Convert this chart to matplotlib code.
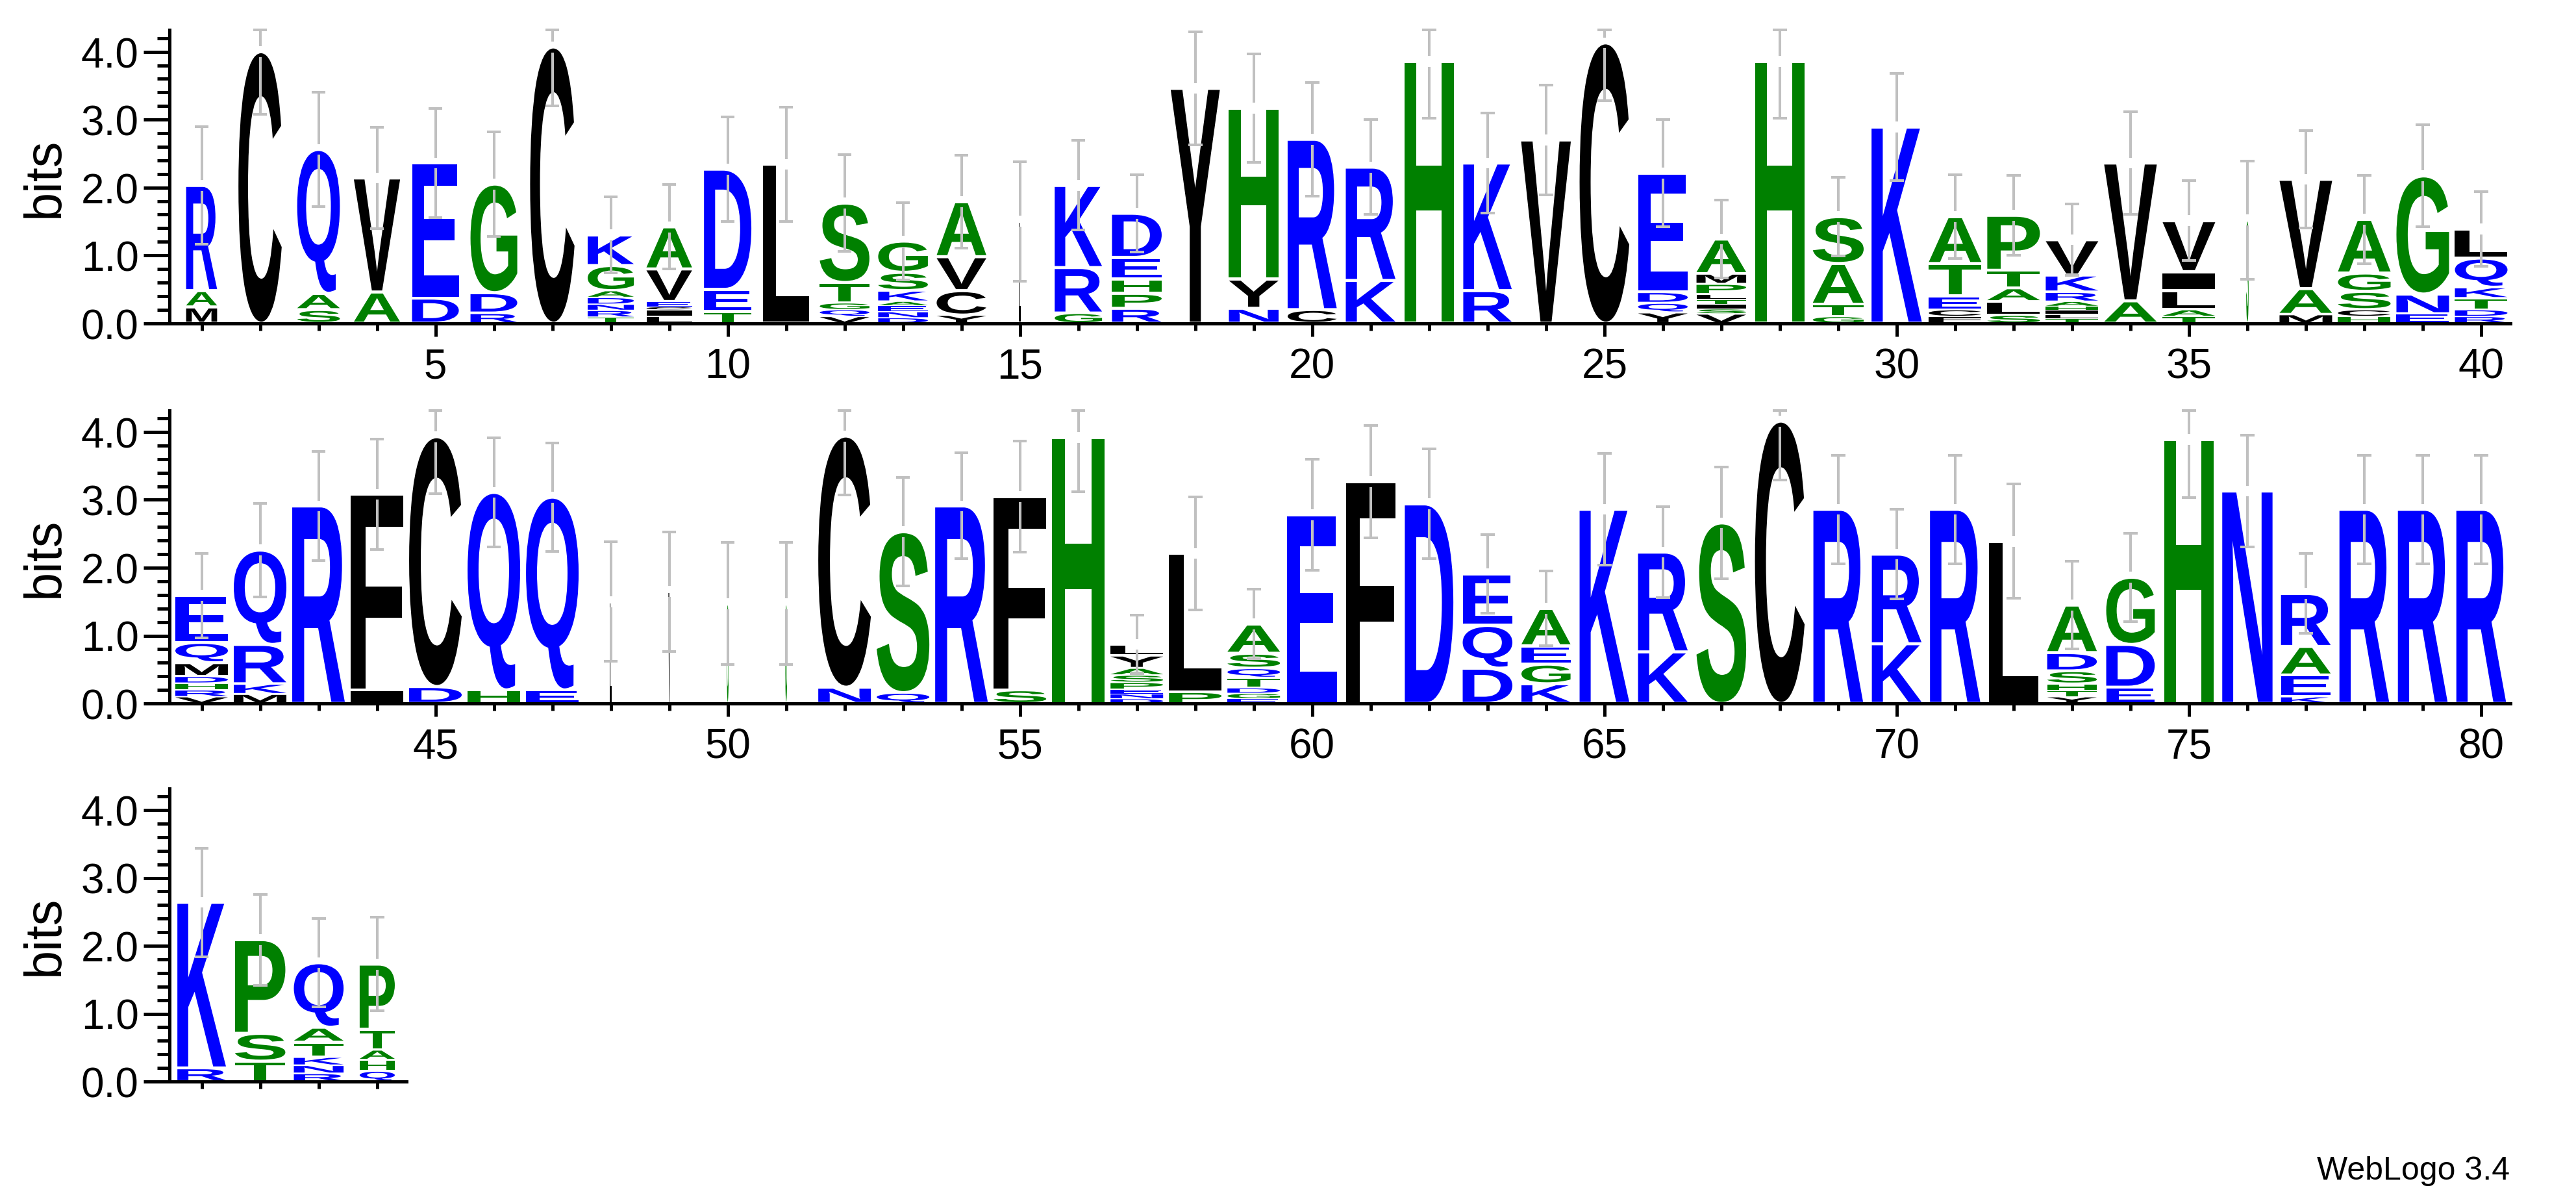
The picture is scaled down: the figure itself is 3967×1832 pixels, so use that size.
import matplotlib.pyplot as plt
from matplotlib.textpath import TextPath
from matplotlib.font_manager import FontProperties
from matplotlib.patches import PathPatch
from matplotlib.transforms import Affine2D
from matplotlib.ticker import MultipleLocator, FormatStrFormatter

plt.rcParams['font.family'] = ['Liberation Sans', 'DejaVu Sans']

# letters of each column, bottom to top
stacks = [
    "MAR", "C", "SAQ", "AV", "DE", "RDG", "C", "TRNDAGK", "LICEVA", "TED",
    "L", "VQGTS", "DNEAKSG", "YCVA", "L", "GRK", "RPHED", "Y", "NYH", "CR",
    "KR", "H", "RK", "V", "C", "YQDE", "VSITLPMA", "H", "GTAS", "K",
    "FCETA", "SLATP", "TLIHARKV", "AV", "TALIV", "S", "MAV", "HCSGA", "ENG", "RDTKQL",
    "VRHDMQE", "MKRQ", "R", "IF", "DC", "HQ", "EQ", "L", "V", "G",
    "G", "NC", "QS", "R", "SF", "H", "DNEPSAYL", "PL", "EGDTQSA", "E",
    "F", "D", "DQE", "KGEA", "K", "KR", "S", "C", "R", "KR",
    "R", "L", "YTHSDA", "EDG", "H", "N", "KEAR", "R", "R", "R",
    "RK", "TSP", "RNKTAQ", "QHATP",
]

# bits of each letter, same order
heights = [
    [0.24, 0.24, 1.55], [4.0], [0.2, 0.24, 2.12], [0.46, 1.68], [0.37, 1.99],
    [0.15, 0.3, 1.6], [4.07], [0.09, 0.1, 0.09, 0.1, 0.1, 0.37, 0.45],
    [0.1, 0.1, 0.04, 0.08, 0.48, 0.62], [0.17, 0.33, 1.77],
    [2.34], [0.1, 0.1, 0.1, 0.3, 1.17], [0.08, 0.09, 0.09, 0.06, 0.16, 0.27, 0.46],
    [0.12, 0.36, 0.5, 0.81], [1.5], [0.15, 0.67, 1.21], [0.22, 0.22, 0.21, 0.32, 0.65],
    [3.46], [0.22, 0.43, 2.52], [0.2, 2.51],
    [0.63, 1.67], [3.86], [0.48, 1.88], [2.7], [4.13], [0.16, 0.14, 0.16, 1.75],
    [0.14, 0.07, 0.07, 0.07, 0.08, 0.15, 0.15, 0.51], [3.86], [0.1, 0.18, 0.6, 0.69], [2.89],
    [0.1, 0.1, 0.2, 0.48, 0.69], [0.12, 0.2, 0.2, 0.26, 0.81],
    [0.07, 0.06, 0.06, 0.06, 0.07, 0.14, 0.25, 0.52], [0.33, 2.03],
    [0.1, 0.1, 0.28, 0.28, 0.75], [1.52], [0.13, 0.38, 1.61], [0.1, 0.1, 0.27, 0.27, 0.79],
    [0.14, 0.29, 1.74], [0.1, 0.1, 0.17, 0.16, 0.43, 0.43],
    [0.1, 0.1, 0.1, 0.1, 0.2, 0.3, 0.69], [0.14, 0.15, 0.58, 1.39], [2.91], [0.2, 2.88],
    [0.25, 3.68], [0.2, 2.91], [0.2, 2.84], [1.5], [1.65], [1.47],
    [1.47], [0.24, 3.7], [0.16, 2.37], [2.91], [0.2, 2.85], [3.92],
    [0.07, 0.07, 0.07, 0.1, 0.11, 0.1, 0.19, 0.16], [0.17, 2.04],
    [0.07, 0.08, 0.08, 0.15, 0.14, 0.22, 0.43], [2.78],
    [3.27], [2.94], [0.52, 0.63, 0.76], [0.29, 0.29, 0.27, 0.55], [2.86], [0.76, 1.47],
    [2.66], [4.16], [2.86], [0.88, 1.32],
    [2.86], [2.39], [0.1, 0.09, 0.1, 0.19, 0.27, 0.7], [0.24, 0.63, 0.99], [3.89], [3.13],
    [0.1, 0.32, 0.42, 0.78], [2.86], [2.86], [2.86],
    [0.2, 2.44], [0.3, 0.41, 1.38], [0.12, 0.12, 0.12, 0.22, 0.22, 0.95],
    [0.16, 0.16, 0.15, 0.3, 0.96],
]

# column widths (fraction of non-gap symbols)
widths = [
    0.53, 0.74, 0.73, 0.79, 0.80, 0.80, 0.76, 0.79, 0.78, 0.81,
    0.79, 0.85, 0.85, 0.85, 0.04, 0.81, 0.85, 0.84, 0.85, 0.84,
    0.85, 0.85, 0.83, 0.85, 0.85, 0.85, 0.85, 0.85, 0.87, 0.86,
    0.90, 0.90, 0.90, 0.90, 0.90, 0.04, 0.90, 0.90, 0.90, 0.90,
    0.90, 0.90, 0.90, 0.90, 0.90, 0.90, 0.90, 0.03, 0.03, 0.03,
    0.03, 0.90, 0.90, 0.90, 0.90, 0.90, 0.90, 0.90, 0.90, 0.86,
    0.85, 0.83, 0.85, 0.84, 0.85, 0.85, 0.85, 0.85, 0.85, 0.85,
    0.86, 0.84, 0.85, 0.83, 0.85, 0.86, 0.85, 0.85, 0.85, 0.85,
    0.83, 0.86, 0.85, 0.60,
]

# error bar half-lengths
errors = [
    0.87, 0.92, 0.84, 0.75, 0.80, 0.77, 0.87, 0.56, 0.62, 0.77,
    0.84, 0.71, 0.57, 0.68, 0.88, 0.66, 0.57, 0.83, 0.80, 0.84,
    0.70, 0.84, 0.74, 0.81, 0.85, 0.79, 0.57, 0.84, 0.58, 0.79,
    0.62, 0.59, 0.53, 0.76, 0.59, 0.87, 0.72, 0.65, 0.75, 0.55,
    0.62, 0.69, 0.80, 0.81, 0.84, 0.80, 0.80, 0.88, 0.88, 0.90,
    0.90, 0.87, 0.80, 0.78, 0.82, 0.80, 0.43, 0.83, 0.51, 0.82,
    0.83, 0.81, 0.58, 0.55, 0.82, 0.67, 0.82, 0.87, 0.80, 0.66,
    0.80, 0.84, 0.65, 0.65, 0.86, 0.82, 0.59, 0.80, 0.80, 0.80,
    0.80, 0.67, 0.65, 0.69,
]

colors = {}
for c in 'RKDENQ':
    colors[c] = '#0000ff'
for c in 'SGHTAP':
    colors[c] = '#008000'
for c in 'YVMCLFIW':
    colors[c] = '#000000'

glyph_font = FontProperties(family='Liberation Sans', weight='bold')
glyphs = {}


def glyph(ch):
    if ch not in glyphs:
        glyphs[ch] = TextPath((0, 0), ch, size=1, prop=glyph_font)
    return glyphs[ch]


YMAX = 4.32
W, H = 3967, 1833
BIT = 104.5  # pixels per bit
fig = plt.figure(figsize=(W / 100, H / 100), dpi=100)

rows = [(1, 40, 498.6), (41, 80, 1084.0), (81, 84, 1666.0)]

for first, last, base in rows:
    n = last - first + 1
    ax = fig.add_axes([261 / W, (H - base) / H, (n * 90 + 5) / W, YMAX * BIT / H])
    ax.set_xlim(first - 0.55, last + 0.5)
    ax.set_ylim(0, YMAX)

    for pos in range(first, last + 1):
        k = pos - 1
        w = widths[k]
        y = 0.0
        for ch, h in zip(stacks[k], heights[k]):
            gap = min(0.045, 0.2 * h)
            p = glyph(ch)
            ext = p.get_extents()
            t = (Affine2D().translate(-ext.x0, -ext.y0)
                 .scale(w / ext.width, (h - gap) / ext.height)
                 .translate(pos - w / 2, y + gap / 2))
            ax.add_patch(PathPatch(t.transform_path(p), fc=colors[ch], ec='none', lw=0))
            y += h
        e = errors[k]
        hi = min(y + e, YMAX)
        lo = max(y - e, 0)
        ax.vlines([pos, pos], [lo, y + 0.08], [y - 0.08, hi],
                  color='#c0c0c0', lw=2.9, zorder=3, clip_on=False)
        ax.hlines([lo, hi], pos - 0.12, pos + 0.12,
                  color='#c0c0c0', lw=2.9, zorder=3, clip_on=False)

    for s in ['top', 'right']:
        ax.spines[s].set_visible(False)
    for s in ['left', 'bottom']:
        ax.spines[s].set_linewidth(3.6)

    ax.xaxis.set_major_locator(MultipleLocator(5))
    ax.xaxis.set_minor_locator(MultipleLocator(1))
    ax.xaxis.set_major_formatter(FormatStrFormatter('%d'))
    ax.yaxis.set_major_locator(MultipleLocator(1))
    ax.yaxis.set_minor_locator(MultipleLocator(0.2))
    ax.yaxis.set_major_formatter(FormatStrFormatter('%.1f'))
    ax.tick_params(axis='y', which='major', length=29, width=3.6, labelsize=46, pad=5)
    ax.tick_params(axis='y', which='minor', length=14, width=3.6)
    ax.tick_params(axis='x', which='major', length=14.4, width=3.6, labelsize=46, pad=12)
    ax.tick_params(axis='x', which='minor', length=8, width=3.6)

    fig.text(69 / W, (H - (base - YMAX * BIT / 2)) / H, 'bits', rotation=90,
             ha='center', va='center', fontsize=57)

fig.text(3865 / W, (H - 1816) / H, 'WebLogo 3.4', ha='right', va='baseline', fontsize=36)

fig.savefig('out.png', dpi=100)
